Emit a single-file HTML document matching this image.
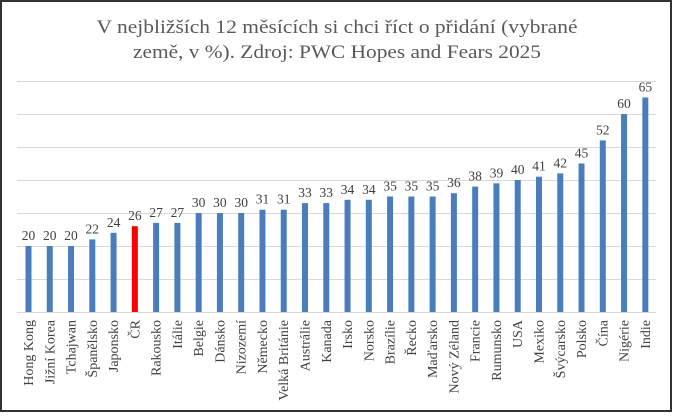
<!DOCTYPE html>
<html><head><meta charset="utf-8"><style>
html,body{margin:0;padding:0;background:#fff;}
</style></head><body>
<svg width="674" height="414" xmlns="http://www.w3.org/2000/svg" font-family="Liberation Serif, DejaVu Serif, serif">
<rect x="0" y="0" width="674" height="414" fill="#fff"/>
<rect x="1" y="1" width="670" height="410" fill="none" stroke="#333" stroke-width="2"/>
<text x="337" y="33" text-anchor="middle" font-size="19" fill="#595959" textLength="481" lengthAdjust="spacingAndGlyphs">V nejbližších 12 měsících si chci říct o přidání (vybrané</text>
<text x="337" y="58" text-anchor="middle" font-size="19" fill="#595959" textLength="408" lengthAdjust="spacingAndGlyphs">země, v %). Zdroj: PWC Hopes and Fears 2025</text>
<g stroke="#d9d9d9" stroke-width="1">
<line x1="17" x2="656" y1="81.5" y2="81.5"/><line x1="17" x2="656" y1="114.5" y2="114.5"/>
<line x1="17" x2="656" y1="147.5" y2="147.5"/><line x1="17" x2="656" y1="180.5" y2="180.5"/>
<line x1="17" x2="656" y1="213.5" y2="213.5"/><line x1="17" x2="656" y1="246.5" y2="246.5"/>
<line x1="17" x2="656" y1="279.5" y2="279.5"/><line x1="17" x2="656" y1="312.5" y2="312.5"/>
</g>
<g fill="#4a7ebb">
<rect x="25.5" y="246" width="6" height="66"/>
<rect x="46.77" y="246" width="6" height="66"/>
<rect x="68.04" y="246" width="6" height="66"/>
<rect x="89.31" y="239.4" width="6" height="72.6"/>
<rect x="110.58" y="232.8" width="6" height="79.2"/>
<rect x="131.85" y="226.2" width="6" height="85.8" fill="#ff0000"/>
<rect x="153.12" y="222.9" width="6" height="89.1"/>
<rect x="174.39" y="222.9" width="6" height="89.1"/>
<rect x="195.66" y="213" width="6" height="99"/>
<rect x="216.93" y="213" width="6" height="99"/>
<rect x="238.2" y="213" width="6" height="99"/>
<rect x="259.47" y="209.7" width="6" height="102.3"/>
<rect x="280.74" y="209.7" width="6" height="102.3"/>
<rect x="302.01" y="203.1" width="6" height="108.9"/>
<rect x="323.28" y="203.1" width="6" height="108.9"/>
<rect x="344.55" y="199.8" width="6" height="112.2"/>
<rect x="365.82" y="199.8" width="6" height="112.2"/>
<rect x="387.09" y="196.5" width="6" height="115.5"/>
<rect x="408.36" y="196.5" width="6" height="115.5"/>
<rect x="429.63" y="196.5" width="6" height="115.5"/>
<rect x="450.9" y="193.2" width="6" height="118.8"/>
<rect x="472.17" y="186.6" width="6" height="125.4"/>
<rect x="493.44" y="183.3" width="6" height="128.7"/>
<rect x="514.71" y="180" width="6" height="132"/>
<rect x="535.98" y="176.7" width="6" height="135.3"/>
<rect x="557.25" y="173.4" width="6" height="138.6"/>
<rect x="578.52" y="163.5" width="6" height="148.5"/>
<rect x="599.79" y="140.4" width="6" height="171.6"/>
<rect x="621.06" y="114" width="6" height="198"/>
<rect x="642.33" y="97.5" width="6" height="214.5"/>
</g>
<g font-size="13.5" fill="#404040" text-anchor="middle">
<text x="28.5" y="240">20</text><text x="49.77" y="240">20</text><text x="71.04" y="240">20</text>
<text x="92.31" y="233.4">22</text><text x="113.58" y="226.8">24</text><text x="134.85" y="220.2">26</text>
<text x="156.12" y="216.9">27</text><text x="177.39" y="216.9">27</text><text x="198.66" y="207">30</text>
<text x="219.93" y="207">30</text><text x="241.2" y="207">30</text><text x="262.47" y="203.7">31</text>
<text x="283.74" y="203.7">31</text><text x="305.01" y="197.1">33</text><text x="326.28" y="197.1">33</text>
<text x="347.55" y="193.8">34</text><text x="368.82" y="193.8">34</text><text x="390.09" y="190.5">35</text>
<text x="411.36" y="190.5">35</text><text x="432.63" y="190.5">35</text><text x="453.9" y="187.2">36</text>
<text x="475.17" y="180.6">38</text><text x="496.44" y="177.3">39</text><text x="517.71" y="174">40</text>
<text x="538.98" y="170.7">41</text><text x="560.25" y="167.4">42</text><text x="581.52" y="157.5">45</text>
<text x="602.79" y="134.4">52</text><text x="624.06" y="108">60</text><text x="645.33" y="91.5">65</text>
</g>
<g font-size="14" fill="#404040" text-anchor="end">
<text transform="translate(33,320) rotate(-90)">Hong Kong</text>
<text transform="translate(54.27,320) rotate(-90)">Jižní Korea</text>
<text transform="translate(75.54,320) rotate(-90)">Tchajwan</text>
<text transform="translate(96.81,320) rotate(-90)">Španělsko</text>
<text transform="translate(118.08,320) rotate(-90)">Japonsko</text>
<text transform="translate(139.35,320) rotate(-90)">ČR</text>
<text transform="translate(160.62,320) rotate(-90)">Rakousko</text>
<text transform="translate(181.89,320) rotate(-90)">Itálie</text>
<text transform="translate(203.16,320) rotate(-90)">Belgie</text>
<text transform="translate(224.43,320) rotate(-90)">Dánsko</text>
<text transform="translate(245.7,320) rotate(-90)">Nizozemí</text>
<text transform="translate(266.97,320) rotate(-90)">Německo</text>
<text transform="translate(288.24,320) rotate(-90)">Velká Británie</text>
<text transform="translate(309.51,320) rotate(-90)">Austrálie</text>
<text transform="translate(330.78,320) rotate(-90)">Kanada</text>
<text transform="translate(352.05,320) rotate(-90)">Irsko</text>
<text transform="translate(373.32,320) rotate(-90)">Norsko</text>
<text transform="translate(394.59,320) rotate(-90)">Brazílie</text>
<text transform="translate(415.86,320) rotate(-90)">Řecko</text>
<text transform="translate(437.13,320) rotate(-90)">Maďarsko</text>
<text transform="translate(458.4,320) rotate(-90)">Nový Zéland</text>
<text transform="translate(479.67,320) rotate(-90)">Francie</text>
<text transform="translate(500.94,320) rotate(-90)">Rumunsko</text>
<text transform="translate(522.21,320) rotate(-90)">USA</text>
<text transform="translate(543.48,320) rotate(-90)">Mexiko</text>
<text transform="translate(564.75,320) rotate(-90)">Švýcarsko</text>
<text transform="translate(586.02,320) rotate(-90)">Polsko</text>
<text transform="translate(607.29,320) rotate(-90)">Čína</text>
<text transform="translate(628.56,320) rotate(-90)">Nigérie</text>
<text transform="translate(649.83,320) rotate(-90)">Indie</text>
</g>
</svg>
</body></html>
